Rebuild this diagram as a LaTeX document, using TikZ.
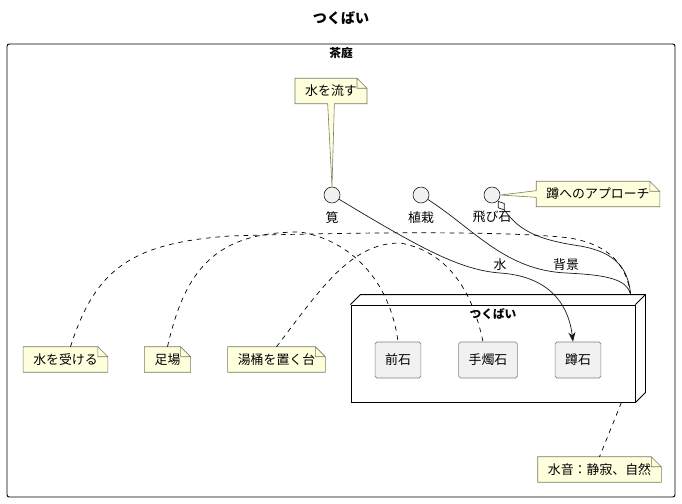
\documentclass[tikz,border=0pt]{standalone}
\usepackage{fontspec}
\setmainfont{Noto Sans CJK JP}
\usetikzlibrary{positioning, arrows.meta}

\definecolor{notefill}{HTML}{FEFFDD}
\definecolor{notedraw}{HTML}{7A7A5C}
\definecolor{elemfill}{HTML}{F1F1F1}
\definecolor{elemdraw}{HTML}{181818}

% folded corner of a note
\newcommand{\dogear}[1]{%
    \fill[white] ([xshift=-0.3cm]#1.north east) -- (#1.north east) -- ([yshift=-0.3cm]#1.north east) -- cycle;
    \draw[notedraw, line width=0.5pt] (#1.south west) -- (#1.north west)
        -- ([xshift=-0.3cm]#1.north east) -- ([yshift=-0.3cm]#1.north east)
        -- (#1.south east) -- cycle
        ([xshift=-0.3cm]#1.north east) -- ([xshift=-0.3cm,yshift=-0.3cm]#1.north east)
        -- ([yshift=-0.3cm]#1.north east);
}

\begin{document}
\begin{tikzpicture}[
    x=0.03cm, y=-0.03cm,
    font=\fontsize{11}{13}\selectfont,
    iface/.style={
        circle,
        draw=elemdraw,
        fill=elemfill,
        minimum size=0.48cm,
        inner sep=0pt,
        line width=0.5pt
    },
    stone/.style={
        rectangle,
        draw=gray,
        fill=elemfill,
        rounded corners=1.5pt,
        minimum height=1.08cm,
        inner xsep=0.3cm,
        line width=0.5pt
    },
    note/.style={
        rectangle,
        fill=notefill,
        minimum height=0.75cm,
        inner xsep=0.3cm,
        inner ysep=0pt
    },
    link/.style={
        line width=0.6pt,
        draw=elemdraw
    },
    notelink/.style={
        dash pattern=on 4pt off 4pt,
        line width=0.6pt
    },
    >=Stealth
]

\useasboundingbox (0,0) rectangle (682,503);

% Title
\node[font=\fontsize{12}{14}\selectfont\bfseries] (title) at (341,18) {つくばい};

% Garden boundary
\node[draw, line width=0.8pt, rounded corners=2pt, minimum width=20.04cm, minimum height=13.59cm] (garden) at (341,270.5) {};
\node[font=\bfseries] (gardenlabel) at (341,53) {茶庭};

% ========== INTERFACES ==========

\node[iface] (kakei) at (332,195) {};
\node[below=0.2cm of kakei, inner sep=1pt] (kakeilabel) {筧};

\node[iface] (shokusai) at (421,195) {};
\node[below=0.2cm of shokusai, inner sep=1pt] (shokusailabel) {植栽};

\node[iface] (tobiishi) at (492,195) {};
\node[below=0.2cm of tobiishi, inner sep=1pt] (tobiishilabel) {飛び石};

% ========== TSUKUBAI NODE ==========

\node[draw, line width=0.8pt, minimum width=8.52cm, minimum height=2.91cm] (tsukubai) at (493,353.5) {};
\draw[line width=0.8pt] (tsukubai.north west) -- ++(10,-10)
    -- ([shift={(10,-10)}]tsukubai.north east) -- ([shift={(10,-10)}]tsukubai.south east)
    -- (tsukubai.south east);
\draw[line width=0.8pt] (tsukubai.north east) -- ++(10,-10);
\node[font=\bfseries] (tsukubailabel) at (493,314) {つくばい};

\node[stone] (maeishi) at (398,360) {前石};
\node[stone] (teshokuishi) at (488,360) {手燭石};
\node[stone] (kamaeishi) at (578,360) {蹲石};

\coordinate (corner) at ([shift={(-5,-11)}]tsukubai.north east);

% ========== NOTES ==========

\node[note] (nflow) at (331,91) {水を流す};
\dogear{nflow}
\node[note] (napproach) at (598,194) {蹲へのアプローチ};
\dogear{napproach}
\node[note] (nreceive) at (65.5,359.5) {水を受ける};
\dogear{nreceive}
\node[note] (nfoot) at (167.5,359.5) {足場};
\dogear{nfoot}
\node[note] (nbucket) at (276.5,359.5) {湯桶を置く台};
\dogear{nbucket}
\node[note] (nsound) at (599.5,469.5) {水音：静寂、自然};
\dogear{nsound}

\fill[notefill] ([xshift=-0.1cm,yshift=1pt]nflow.south) -- (kakei.north) -- ([xshift=0.1cm,yshift=1pt]nflow.south) -- cycle;
\draw[notedraw, line width=0.5pt] ([xshift=-0.1cm]nflow.south) -- (kakei.north) -- ([xshift=0.1cm]nflow.south);

\fill[notefill] ([xshift=1pt,yshift=0.1cm]napproach.west) -- (tobiishi.east) -- ([xshift=1pt,yshift=-0.1cm]napproach.west) -- cycle;
\draw[notedraw, line width=0.5pt] ([yshift=0.1cm]napproach.west) -- (tobiishi.east) -- ([yshift=-0.1cm]napproach.west);

% ========== CONNECTIONS ==========

\draw[link, -{Stealth[length=8pt, width=6pt, inset=2.5pt]}] (kakei) .. controls (420,248) and (460,270) .. (500,273) node[above, inner sep=2pt] (mizulabel) {水}
    .. controls (545,276) and (568,300) .. ([xshift=-0.15cm]kamaeishi.north);

\draw[link] (shokusai) .. controls (475,230) and (505,270) .. (566,273) node[above, inner sep=2pt] (haikeilabel) {背景}
    .. controls (610,275) and (626,280) .. (corner);

\draw[link, {Diamond[open, length=10pt, width=7pt]}-] (tobiishi.south east) .. controls (520,232) and (540,240) .. (580,246)
    .. controls (615,252) and (628,268) .. (corner);

% ========== NOTE LINKS ==========

\draw[notelink] ([xshift=0.15cm]nreceive.north) .. controls (95,270) and (130,243) .. (230,236)
    .. controls (400,231) and (520,232) .. (570,238) .. controls (610,245) and (626,265) .. (corner);

\draw[notelink] (nfoot.north) .. controls (185,270) and (215,232) .. (300,232)
    .. controls (350,240) and (390,280) .. (maeishi.north);

\draw[notelink] (nbucket.north) .. controls (320,290) and (350,243) .. (400,243)
    .. controls (440,250) and (470,280) .. ([xshift=-0.15cm]teshokuishi.north);

\draw[notelink] ([xshift=-12]tsukubai.south east) -- (nsound.north);

\end{tikzpicture}
\end{document}
